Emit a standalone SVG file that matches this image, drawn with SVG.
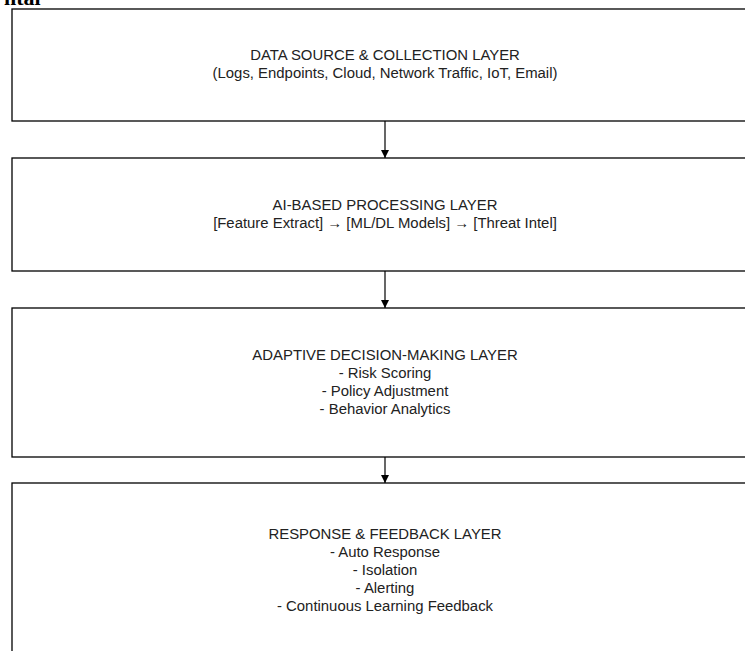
<svg xmlns="http://www.w3.org/2000/svg" width="745" height="651" viewBox="0 0 745 651">
  <style>
    .layer { fill: #ffffff; stroke: #000000; stroke-width: 1.3; }
    .lbl { font-family: "Liberation Sans", Arial, sans-serif; font-size: 14.9px; fill: #222222; text-anchor: middle; }
    .conn { stroke: #000000; stroke-width: 1.2; fill: none; marker-end: url(#arrow); }
    .heading { font-family: "Liberation Serif", "Times New Roman", serif; font-size: 22px; font-weight: bold; fill: #000000; }
  </style>
  <defs>
    <marker id="arrow" viewBox="0 0 10 10" refX="10" refY="5" markerWidth="8" markerHeight="8" markerUnits="userSpaceOnUse" orient="auto">
      <path d="M0,0 L10,5 L0,10 Z" fill="#000000"/>
    </marker>
  </defs>

  <rect width="745" height="651" fill="#ffffff"/>

  <!-- heading clipped at the top of the page -->
  <text class="heading" x="4" y="5">ntal</text>

  <g id="data-source-layer">
    <rect class="layer" x="12" y="9" width="760" height="112"/>
    <text class="lbl" x="385" y="60">DATA SOURCE &amp; COLLECTION LAYER</text>
    <text class="lbl" x="385" y="78">(Logs, Endpoints, Cloud, Network Traffic, IoT, Email)</text>
  </g>

  <g id="ai-processing-layer">
    <rect class="layer" x="12" y="158" width="760" height="113"/>
    <text class="lbl" x="385" y="210">AI-BASED PROCESSING LAYER</text>
    <text class="lbl" x="385" y="228">[Feature Extract] → [ML/DL Models] → [Threat Intel]</text>
  </g>

  <g id="decision-layer">
    <rect class="layer" x="12" y="308" width="760" height="149"/>
    <text class="lbl" x="385" y="360">ADAPTIVE DECISION-MAKING LAYER</text>
    <text class="lbl" x="385" y="378">- Risk Scoring</text>
    <text class="lbl" x="385" y="396">- Policy Adjustment</text>
    <text class="lbl" x="385" y="414">- Behavior Analytics</text>
  </g>

  <g id="response-layer">
    <rect class="layer" x="12" y="483" width="760" height="200"/>
    <text class="lbl" x="385" y="539">RESPONSE &amp; FEEDBACK LAYER</text>
    <text class="lbl" x="385" y="557">- Auto Response</text>
    <text class="lbl" x="385" y="575">- Isolation</text>
    <text class="lbl" x="385" y="593">- Alerting</text>
    <text class="lbl" x="385" y="611">- Continuous Learning Feedback</text>
  </g>

  <g id="connectors">
    <line class="conn" x1="385" y1="121" x2="385" y2="158"/>
    <line class="conn" x1="385" y1="271" x2="385" y2="308"/>
    <line class="conn" x1="385" y1="457" x2="385" y2="483"/>
  </g>
</svg>
